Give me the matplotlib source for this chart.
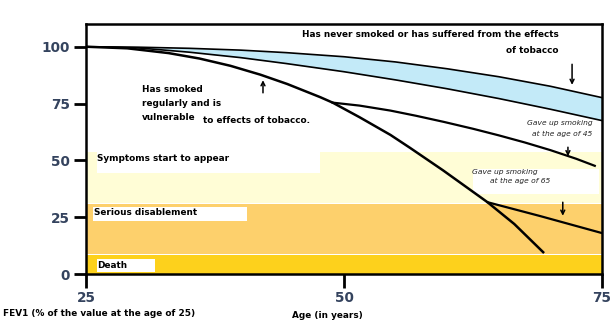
import matplotlib.pyplot as plt
from matplotlib.patches import Rectangle

# curves (age, FEV1 %)
never_age = [25, 30, 35, 40, 44.4, 50, 55, 60, 65, 70, 75]
never_top = [100, 99.8, 99.3, 98.5, 97.4, 95.6, 93.3, 90.3, 86.8, 82.6, 77.6]
never_low = [100, 99.5, 97.6, 95.2, 92.6, 89.0, 85.4, 81.5, 77.2, 72.5, 67.5]

smoker_age = [25, 29, 33, 36, 39, 41.9, 44.5, 47.7, 48.9, 51.5, 54.5, 56.4, 59.6, 63.9, 66.5, 69.3]
smoker_val = [100, 99.3, 97.2, 94.8, 91.6, 87.7, 83.6, 77.8, 75.4, 69.0, 61.2, 55.5, 45.6, 31.6, 22.0, 9.6]

quit45_age = [48.9, 51.5, 54.5, 57, 59.7, 62.5, 65, 67.5, 70, 72.5, 74.3]
quit45_val = [75.4, 74.1, 71.9, 69.6, 66.9, 63.9, 61.0, 57.9, 54.5, 50.7, 47.6]

quit65_age = [63.9, 69, 75]
quit65_val = [31.6, 25.5, 18.0]

band_labels = ["Death", "Serious disablement", "Symptoms start to appear"]
band_low = [0, 8.6, 31.4]
band_high = [8.2, 31.0, 53.5]
band_colors = ["#fdd11c", "#fdd06c", "#fffdd6"]

x_ticks = [25, 50, 75]
y_ticks = [0, 25, 50, 75, 100]


def draw_bands(ax):
    for lo, hi, col in zip(band_low, band_high, band_colors):
        ax.axhspan(lo, hi, color=col, lw=0, zorder=0)
    # white label boxes
    boxes = [(26.1, 44.3, 47.7, 53.5), (25.7, 23.2, 40.6, 29.4),
             (26.1, 0.9, 31.7, 6.6), (62.5, 35.0, 74.7, 46.0)]
    for x0, y0, x1, y1 in boxes:
        ax.add_patch(Rectangle((x0, y0), x1 - x0, y1 - y0, color="white",
                               lw=0, zorder=1))
    lab = dict(fontsize=6.4, weight="bold", va="center", zorder=3)
    ax.text(26.1, 50.7, band_labels[2], **lab)
    ax.text(25.8, 26.9, band_labels[1], **lab)
    ax.text(26.1, 3.6, band_labels[0], **lab)


def draw_curves(ax):
    ax.fill_between(never_age, never_top, never_low, color="#c3eaf8", lw=0, zorder=2)
    ax.plot(never_age, never_top, color="black", lw=1.2, zorder=3)
    ax.plot(never_age, never_low, color="black", lw=1.2, zorder=3)
    ax.plot(smoker_age, smoker_val, color="black", lw=1.8, zorder=3)
    ax.plot(quit45_age, quit45_val, color="black", lw=1.6, zorder=3)
    ax.plot(quit65_age, quit65_val, color="black", lw=1.6, zorder=3)


def draw_notes(ax):
    bold = dict(fontsize=6.4, weight="bold", zorder=4)
    ax.text(70.8, 105.3, "Has never smoked or has suffered from the effects",
            ha="right", va="center", **bold)
    ax.text(70.8, 98.2, "of tobacco", ha="right", va="center", **bold)
    ax.text(30.4, 81.0, "Has smoked", va="center", **bold)
    ax.text(30.4, 75.2, "regularly and is", va="center", **bold)
    ax.text(30.4, 69.0, "vulnerable", va="center", **bold)
    ax.text(36.3, 67.4, "to effects of tobacco.", va="center", **bold)

    small = dict(fontsize=5.4, style="italic", color="#222222", zorder=4)
    ax.text(74.1, 66.4, "Gave up smoking", ha="right", va="center", **small)
    ax.text(74.1, 61.6, "at the age of 45", ha="right", va="center", **small)
    ax.text(62.4, 44.7, "Gave up smoking", va="center", **small)
    ax.text(64.1, 40.8, "at the age of 65", va="center", **small)

    arrow = dict(arrowstyle="->", color="black", lw=1.1, mutation_scale=7)
    ax.annotate("", xy=(42.15, 86.5), xytext=(42.15, 78.5), arrowprops=arrow, zorder=5)
    ax.annotate("", xy=(72.1, 82.0), xytext=(72.1, 93.5), arrowprops=arrow, zorder=5)
    ax.annotate("", xy=(71.7, 50.6), xytext=(71.7, 57.0), arrowprops=arrow, zorder=5)
    ax.annotate("", xy=(71.2, 24.4), xytext=(71.2, 32.8), arrowprops=arrow, zorder=5)


def main():
    fig = plt.figure(figsize=(6.11, 3.27), dpi=100)
    ax = fig.add_axes([86 / 611, 1 - 274 / 327, 516 / 611, 250 / 327])

    draw_bands(ax)
    draw_curves(ax)
    draw_notes(ax)

    ax.set_xlim(25, 75)
    ax.set_ylim(0, 110)
    ax.set_xticks(x_ticks)
    ax.set_yticks(y_ticks)
    tick_font = dict(fontsize=9.8, weight="bold", color="#34435e")
    ax.set_xticklabels([str(t) for t in x_ticks], **tick_font)
    ax.set_yticklabels([str(t) for t in y_ticks], **tick_font)
    ax.tick_params(axis="x", length=10, width=2, pad=2)
    ax.tick_params(axis="y", length=8.5, width=2, pad=3)
    for sp in ax.spines.values():
        sp.set_linewidth(1.8)

    fig.text(3 / 611, 1 - 313 / 327, "FEV1 (% of the value at the age of 25)",
             fontsize=6.4, weight="bold", va="center")
    fig.text(292 / 611, 1 - 316 / 327, "Age (in years)",
             fontsize=6.4, weight="bold", va="center")

    fig.savefig("out.png", dpi=100)


if __name__ == "__main__":
    main()
